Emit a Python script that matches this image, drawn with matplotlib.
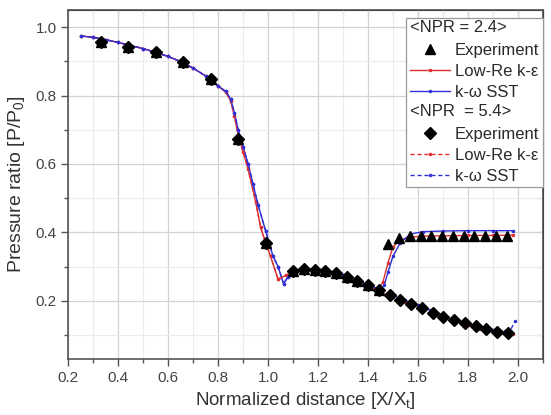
import matplotlib.pyplot as plt
from matplotlib.legend_handler import HandlerBase
from matplotlib.lines import Line2D
from matplotlib.text import Text
from matplotlib.ticker import MultipleLocator

plt.rcParams['font.family'] = ['Liberation Sans', 'DejaVu Sans']
plt.rcParams['mathtext.fontset'] = 'custom'
plt.rcParams['mathtext.rm'] = 'Liberation Sans'

# experiment, NPR = 5.4 (diamonds)
exp54_x = [0.33, 0.44, 0.55, 0.66, 0.77, 0.88, 0.99,
           1.100, 1.143, 1.186, 1.229, 1.272, 1.315, 1.358, 1.401, 1.444, 1.487,
           1.530, 1.573, 1.616, 1.659, 1.702, 1.745, 1.788, 1.831, 1.874, 1.917, 1.960]
exp54_y = [0.955, 0.942, 0.928, 0.899, 0.849, 0.674, 0.368,
           0.286, 0.292, 0.291, 0.287, 0.280, 0.270, 0.258, 0.245, 0.231, 0.216,
           0.201, 0.190, 0.178, 0.165, 0.153, 0.143, 0.135, 0.126, 0.117, 0.110, 0.106]

# experiment, NPR = 2.4 (triangles)
exp24_x = [0.33, 0.44, 0.55, 0.66, 0.77, 0.88, 0.99,
           1.100, 1.143, 1.186, 1.229, 1.272, 1.315, 1.358, 1.401, 1.444, 1.482,
           1.525, 1.568, 1.611, 1.654, 1.697, 1.740, 1.783, 1.826, 1.869, 1.912, 1.955]
exp24_y = [0.955, 0.942, 0.928, 0.899, 0.849, 0.674, 0.368,
           0.286, 0.292, 0.291, 0.287, 0.280, 0.270, 0.258, 0.245, 0.232, 0.367,
           0.385, 0.388, 0.389, 0.389, 0.390, 0.390, 0.390, 0.390, 0.390, 0.390, 0.390]

# Low-Re k-e, common part of both NPR cases
ke_x = [0.25, 0.30, 0.35, 0.40, 0.45, 0.50, 0.55, 0.60, 0.65, 0.70, 0.75, 0.78, 0.80,
        0.83, 0.85, 0.865, 0.88, 0.90, 0.92, 0.95, 0.97, 0.99, 1.01, 1.04, 1.07,
        1.10, 1.15, 1.20, 1.25, 1.30, 1.35, 1.40]
ke_y = [0.974, 0.970, 0.963, 0.955, 0.946, 0.937, 0.926, 0.914, 0.899, 0.880, 0.857, 0.840, 0.828,
        0.810, 0.785, 0.740, 0.685, 0.635, 0.585, 0.490, 0.415, 0.370, 0.330, 0.263, 0.274,
        0.284, 0.290, 0.289, 0.282, 0.271, 0.256, 0.242]
ke54_tail_x = [1.45, 1.50, 1.55, 1.60, 1.65, 1.70, 1.75, 1.80, 1.85, 1.90, 1.95, 1.98]
ke54_tail_y = [0.227, 0.211, 0.196, 0.182, 0.167, 0.154, 0.141, 0.129, 0.119, 0.110, 0.104, 0.102]
ke24_tail_x = [1.44, 1.46, 1.48, 1.50, 1.53, 1.57, 1.62, 1.70, 1.80, 1.90, 1.98]
ke24_tail_y = [0.230, 0.255, 0.310, 0.358, 0.378, 0.386, 0.389, 0.390, 0.391, 0.391, 0.392]

# k-w SST, common part of both NPR cases
sst_x = [0.25, 0.30, 0.35, 0.40, 0.45, 0.50, 0.55, 0.60, 0.65, 0.70, 0.75, 0.78, 0.80,
         0.83, 0.85, 0.865, 0.88, 0.90, 0.92, 0.94, 0.96, 0.99, 1.02, 1.04, 1.062, 1.08,
         1.10, 1.15, 1.20, 1.25, 1.30, 1.35, 1.40]
sst_y = [0.974, 0.970, 0.963, 0.955, 0.946, 0.937, 0.926, 0.914, 0.899, 0.880, 0.857, 0.840, 0.828,
         0.812, 0.790, 0.750, 0.700, 0.650, 0.600, 0.540, 0.480, 0.405, 0.330, 0.300, 0.250, 0.270,
         0.283, 0.292, 0.292, 0.285, 0.275, 0.261, 0.247]
sst54_tail_x = [1.45, 1.50, 1.55, 1.60, 1.65, 1.70, 1.75, 1.80, 1.85, 1.90, 1.95, 1.97, 1.99]
sst54_tail_y = [0.232, 0.216, 0.201, 0.187, 0.173, 0.159, 0.146, 0.134, 0.124, 0.116, 0.111, 0.113, 0.142]
sst24_tail_x = [1.45, 1.465, 1.48, 1.50, 1.53, 1.57, 1.62, 1.70, 1.80, 1.90, 1.98]
sst24_tail_y = [0.232, 0.245, 0.283, 0.330, 0.370, 0.395, 0.402, 0.404, 0.405, 0.405, 0.405]

red = '#e03030'
blue = '#3030d8'


class Header:
    def __init__(self, text):
        self.text = text


class HeaderHandler(HandlerBase):
    def create_artists(self, legend, orig_handle, xdescent, ydescent,
                       width, height, fontsize, trans):
        t = Text(-xdescent, -ydescent + height / 2, orig_handle.text,
                 fontsize=fontsize, ha='left', va='center', color='#2a2a2a',
                 transform=trans)
        return [t]


fig = plt.figure(figsize=(5.51, 4.15), dpi=100)
ax = fig.add_axes([0.124, 0.135, 0.861, 0.841])

ax.grid(True, which='major', color='#d4d4d4', linewidth=0.9)
ax.grid(True, which='minor', color='#ececec', linewidth=0.8)
ax.set_axisbelow(True)

ax.plot(exp24_x, exp24_y, '^', color='black', markersize=6.5, zorder=5)
ax.plot(exp54_x, exp54_y, 'D', color='black', markersize=6.3, zorder=6)

dash = (0, (3, 2))
ax.plot(ke_x + ke24_tail_x, ke_y + ke24_tail_y, '-', marker='.', markersize=3,
        color=red, linewidth=1.0, zorder=3)
ax.plot(sst_x + sst24_tail_x, sst_y + sst24_tail_y, '-', marker='.', markersize=3,
        color=blue, linewidth=1.0, zorder=3)
ax.plot(ke_x + ke54_tail_x, ke_y + ke54_tail_y, linestyle=dash, marker='.', markersize=3,
        color=red, linewidth=1.0, zorder=4)
ax.plot(sst_x + sst54_tail_x, sst_y + sst54_tail_y, linestyle=dash, marker='.', markersize=3,
        color=blue, linewidth=1.0, zorder=4)

ax.set_xlim(0.2, 2.1)
ax.set_ylim(0.03, 1.05)
ax.xaxis.set_major_locator(MultipleLocator(0.2))
ax.xaxis.set_minor_locator(MultipleLocator(0.1))
ax.yaxis.set_major_locator(MultipleLocator(0.2))
ax.yaxis.set_minor_locator(MultipleLocator(0.1))
ax.xaxis.set_major_formatter(lambda v, p: f'{v:.1f}')
ax.yaxis.set_major_formatter(lambda v, p: f'{v:.1f}')

for spine in ax.spines.values():
    spine.set_color('#555555')
    spine.set_linewidth(1.2)
ax.tick_params(which='both', direction='out', colors='#555555', labelcolor='#444444',
               labelsize=11, width=1.0)
ax.tick_params(which='major', length=5)
ax.tick_params(which='minor', length=3)

top = ax.secondary_xaxis('top')
top.xaxis.set_major_locator(MultipleLocator(0.1))
top.tick_params(direction='in', length=4, colors='#555555', labeltop=False)
right = ax.secondary_yaxis('right')
right.yaxis.set_major_locator(MultipleLocator(0.1))
right.tick_params(direction='in', length=4, colors='#555555', labelright=False)

ax.set_xlabel(r'Normalized distance [X/X$_\mathrm{t}$]', fontsize=13.5, color='#333333', labelpad=4)
ax.set_ylabel(r'Pressure ratio [P/P$_0$]', fontsize=14, color='#333333', labelpad=6)

handles = [
    Header('<NPR = 2.4>'),
    Line2D([], [], marker='^', linestyle='none', color='black', markersize=6.5),
    Line2D([], [], color=red, linewidth=1.0, marker='.', markersize=3),
    Line2D([], [], color=blue, linewidth=1.0, marker='.', markersize=3),
    Header('<NPR  = 5.4>'),
    Line2D([], [], marker='D', linestyle='none', color='black', markersize=6.3),
    Line2D([], [], color=red, linewidth=1.0, linestyle=dash, marker='.', markersize=3),
    Line2D([], [], color=blue, linewidth=1.0, linestyle=dash, marker='.', markersize=3),
]
labels = ['', 'Experiment', 'Low-Re k-ε', 'k-ω SST', '', 'Experiment', 'Low-Re k-ε', 'k-ω SST']
leg = ax.legend(handles, labels, handler_map={Header: HeaderHandler()},
                loc='upper right', bbox_to_anchor=(1.0, 0.977), borderaxespad=0,
                fontsize=12, numpoints=1, handlelength=2.4, handletextpad=0.3,
                labelspacing=0.36, borderpad=0.22, fancybox=False, framealpha=1,
                edgecolor='#999999')
leg.get_frame().set_linewidth(0.9)
for t in leg.get_texts():
    t.set_color('#2a2a2a')

fig.savefig('out.png', dpi=100)
